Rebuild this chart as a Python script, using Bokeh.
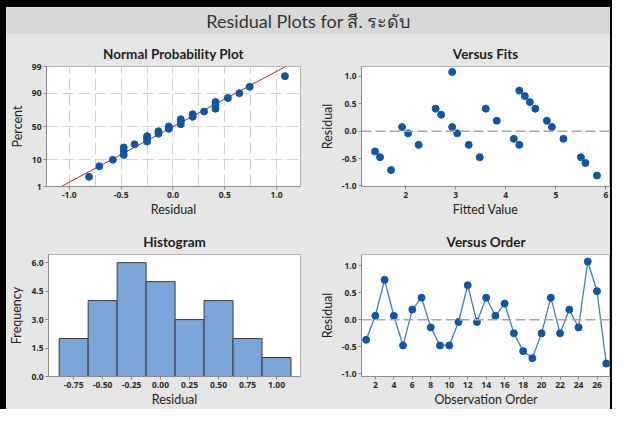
import statistics
import numpy as np
from bokeh.plotting import figure
from bokeh.models import Range1d, FixedTicker, Span, Label, NumeralTickFormatter
from bokeh.layouts import column, row
from bokeh.embed import file_html
from bokeh.resources import INLINE

# ---------------- data ----------------
title_text = "Residual Plots for สี. ระดับ"
observation = list(range(1, 28))
residuals = [-0.37, 0.075, 0.74, 0.075, -0.475, 0.19, 0.41, -0.14, -0.475, -0.475,
             -0.04, 0.64, -0.04, 0.41, 0.075, 0.30, -0.25, -0.58, -0.71, -0.25,
             0.41, -0.25, 0.19, -0.14, 1.08, 0.53, -0.81]
fitted = [1.39, 1.93, 4.27, 2.93, 1.49, 3.82, 2.60, 4.16, 3.48, 5.50,
          2.05, 4.38, 3.03, 3.60, 4.92, 2.71, 2.26, 5.59, 1.71, 3.26,
          4.59, 4.27, 4.82, 5.15, 2.93, 4.48, 5.82]
prob_percent = [2.55, 6.20, 9.85, 13.50, 17.15, 20.80, 24.45, 28.10, 31.75, 35.40,
                39.05, 42.70, 46.35, 50.00, 53.65, 57.30, 60.95, 64.60, 68.25, 71.90,
                75.55, 79.20, 82.85, 86.50, 90.15, 93.80, 97.45]
percent_ticks = [1, 10, 50, 90, 99]
percent_grid = [10, 50, 90]
normal_x_ticks = [-1.0, -0.5, 0.0, 0.5, 1.0]
normal_x_grid = [-1.0, -0.75, -0.5, -0.25, 0.0, 0.25, 0.5, 0.75, 1.0]
hist_centers = [-0.75, -0.50, -0.25, 0.00, 0.25, 0.50, 0.75, 1.00]
hist_counts = [2, 4, 6, 5, 3, 4, 2, 1]
hist_y_ticks = [0.0, 1.5, 3.0, 4.5, 6.0]
resid_ticks = [-1.0, -0.5, 0.0, 0.5, 1.0]
fits_x_ticks = [2, 3, 4, 5, 6]
order_x_ticks = list(range(2, 27, 2))

# ---------------- style ----------------
PANEL_BG = "#E6E6E6"
BAND_BG = "#D8D8D8"
BLUE = "#0E56A8"
LINE_BLUE = "#3F7EC6"
FONT = "Lato"
TICK_FONT = "Noto Sans"


def zval(pct):
    return round(statistics.NormalDist().inv_cdf(pct / 100.0), 6)


def make_panel(w, h, left, right, top, bottom, title, xlabel, ylabel, xr, yr):
    p = figure(width=w, height=h, x_range=xr, y_range=yr, title=title,
               output_backend="svg", toolbar_location=None,
               min_border_left=left, min_border_right=right,
               min_border_top=top, min_border_bottom=bottom)
    p.title.text_font = FONT
    p.title.text_font_size = "13.5px"
    p.title.text_font_style = "bold"
    p.title.text_color = "#1E1E1E"
    p.title.align = "center"
    p.title.standoff = 10
    p.background_fill_color = "white"
    p.border_fill_color = PANEL_BG
    p.outline_line_color = "#B4B4B4"
    p.outline_line_width = 1
    p.xaxis.axis_label = xlabel
    p.yaxis.axis_label = ylabel
    for ax in (p.xaxis, p.yaxis):
        ax.axis_label_text_font = FONT
        ax.axis_label_text_font_size = "12.5px"
        ax.axis_label_text_font_style = "normal"
        ax.axis_label_text_color = "#222222"
        ax.major_label_text_font = TICK_FONT
        ax.major_label_text_font_size = "8.5px"
        ax.major_label_text_font_style = "bold"
        ax.major_label_text_color = "#2A2A2A"
        ax.axis_line_color = "#8C8C8C"
        ax.major_tick_line_color = "#8C8C8C"
        ax.major_tick_out = 3
        ax.major_tick_in = 0
        ax.minor_tick_line_color = None
        ax.major_label_standoff = 2
    p.xaxis.axis_label_standoff = 1
    p.yaxis.axis_label_standoff = 4
    p.xgrid.grid_line_color = None
    p.ygrid.grid_line_color = None
    return p


# ---------------- title band ----------------
band = figure(width=604, height=27, x_range=Range1d(0, 1), y_range=Range1d(0, 1),
              output_backend="svg", toolbar_location=None,
              min_border=0, min_border_left=0, min_border_right=0,
              min_border_top=0, min_border_bottom=0)
band.axis.visible = False
band.grid.visible = False
band.outline_line_color = None
band.background_fill_color = BAND_BG
band.border_fill_color = BAND_BG
band.add_layout(Label(x=0.5, y=0.5, text=title_text, text_align="center",
                      text_baseline="middle", text_font=FONT,
                      text_font_size="18px", text_color="#333333"))

# ---------------- normal probability plot ----------------
sorted_res = sorted(residuals)
z_points = [statistics.NormalDist().inv_cdf(v / 100.0) for v in prob_percent]
z_lo, z_hi = zval(percent_ticks[0]), zval(percent_ticks[-1])
p1 = make_panel(300, 187, 36, 6, 32, 35, "Normal Probability Plot", "Residual", "Percent",
                Range1d(-1.22, 1.23), Range1d(z_lo, z_hi))
p1.xaxis.ticker = FixedTicker(ticks=normal_x_ticks)
p1.xaxis.formatter = NumeralTickFormatter(format="0.0")
p1.yaxis.ticker = FixedTicker(ticks=[zval(t) for t in percent_ticks])
p1.yaxis.major_label_overrides = {zval(t): str(t) for t in percent_ticks}
p1.xgrid.ticker = FixedTicker(ticks=normal_x_grid)
p1.ygrid.ticker = FixedTicker(ticks=[zval(t) for t in percent_grid])
for g in (p1.xgrid, p1.ygrid):
    g.grid_line_color = "#D2D2D2"
    g.grid_line_dash = "12 4"
    g.grid_line_width = 1
mu = float(np.mean(residuals))
sd = float(np.std(residuals, ddof=1))
p1.line([mu + sd * z_lo, mu + sd * z_hi], [z_lo, z_hi], line_color="#B02A2A", line_width=1)
p1.scatter(sorted_res, z_points, size=7, fill_color=BLUE, line_color=BLUE)

# ---------------- versus fits ----------------
p2 = make_panel(304, 187, 55, 1, 32, 35, "Versus Fits", "Fitted Value", "Residual",
                Range1d(1.12, 6.07), Range1d(-1.01, 1.18))
p2.xaxis.ticker = FixedTicker(ticks=fits_x_ticks)
p2.yaxis.ticker = FixedTicker(ticks=resid_ticks)
p2.yaxis.formatter = NumeralTickFormatter(format="0.0")
p2.add_layout(Span(location=0, dimension="width", line_color="#A8A8A8",
                   line_dash="10 4", line_width=1.5))
p2.scatter(fitted, residuals, size=7, fill_color=BLUE, line_color=BLUE)

# ---------------- histogram ----------------
p3 = make_panel(300, 188, 35, 6, 33, 31, "Histogram", "Residual", "Frequency",
                Range1d(-0.967, 1.207), Range1d(0, 6.43))
p3.xaxis.ticker = FixedTicker(ticks=hist_centers)
p3.xaxis.formatter = NumeralTickFormatter(format="0.00")
p3.yaxis.ticker = FixedTicker(ticks=hist_y_ticks)
p3.yaxis.formatter = NumeralTickFormatter(format="0.0")
p3.vbar(x=hist_centers, top=hist_counts, width=0.25, bottom=0,
        fill_color="#7BA5D8", line_color="#3A3A3A", line_width=1)

# ---------------- versus order ----------------
p4 = make_panel(304, 188, 55, 0, 33, 31, "Versus Order", "Observation Order", "Residual",
                Range1d(0.5, 27.46), Range1d(-1.05, 1.21))
p4.xaxis.ticker = FixedTicker(ticks=order_x_ticks)
p4.yaxis.ticker = FixedTicker(ticks=resid_ticks)
p4.yaxis.formatter = NumeralTickFormatter(format="0.0")
p4.add_layout(Span(location=0, dimension="width", line_color="#A8A8A8",
                   line_dash="10 4", line_width=1.5))
p4.line(observation, residuals, line_color=LINE_BLUE, line_width=1.3)
p4.scatter(observation, residuals, size=7, fill_color=BLUE, line_color=BLUE)

layout = column(band, row(p1, p2), row(p3, p4),
                width=612, height=409,
                styles={"box-sizing": "border-box",
                        "border-style": "solid", "border-color": "black",
                        "border-width": "7px 2px 0px 6px", "background-color": PANEL_BG})

open("out.html", "w").write(file_html(layout, INLINE))
